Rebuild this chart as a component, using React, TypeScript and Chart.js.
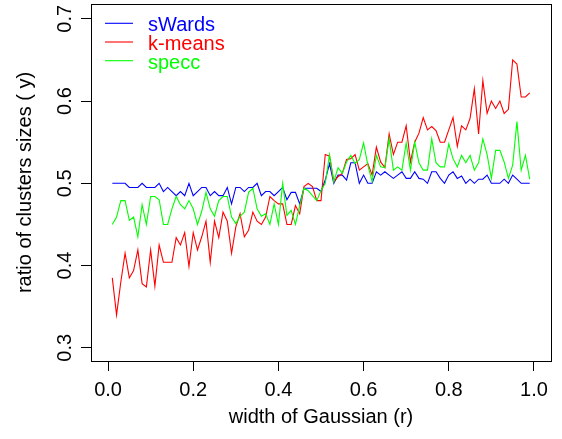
import React, { useEffect, useRef } from "react";
import { Chart, registerables } from "chart.js";

Chart.register(...registerables);

const widths = [
  0.01, 0.02, 0.03, 0.04, 0.05, 0.06, 0.07, 0.08, 0.09, 0.1,
  0.11, 0.12, 0.13, 0.14, 0.15, 0.16, 0.17, 0.18, 0.19, 0.2,
  0.21, 0.22, 0.23, 0.24, 0.25, 0.26, 0.27, 0.28, 0.29, 0.3,
  0.31, 0.32, 0.33, 0.34, 0.35, 0.36, 0.37, 0.38, 0.39, 0.4,
  0.41, 0.42, 0.43, 0.44, 0.45, 0.46, 0.47, 0.48, 0.49, 0.5,
  0.51, 0.52, 0.53, 0.54, 0.55, 0.56, 0.57, 0.58, 0.59, 0.6,
  0.61, 0.62, 0.63, 0.64, 0.65, 0.66, 0.67, 0.68, 0.69, 0.7,
  0.71, 0.72, 0.73, 0.74, 0.75, 0.76, 0.77, 0.78, 0.79, 0.8,
  0.81, 0.82, 0.83, 0.84, 0.85, 0.86, 0.87, 0.88, 0.89, 0.9,
  0.91, 0.92, 0.93, 0.94, 0.95, 0.96, 0.97, 0.98, 0.99,
];

const sWards = [
  0.5, 0.5, 0.5, 0.5, 0.495, 0.495, 0.495, 0.5, 0.495, 0.495,
  0.495, 0.5, 0.49, 0.495, 0.49, 0.485, 0.49, 0.485, 0.5, 0.485,
  0.49, 0.495, 0.495, 0.485, 0.49, 0.485, 0.485, 0.495, 0.475, 0.495,
  0.495, 0.49, 0.495, 0.495, 0.5, 0.485, 0.49, 0.49, 0.485, 0.49,
  0.495, 0.48, 0.489, 0.489, 0.475, 0.494, 0.494, 0.494, 0.494, 0.49,
  0.504, 0.524, 0.5, 0.51, 0.51, 0.504, 0.525, 0.525, 0.5, 0.51,
  0.5, 0.5, 0.514, 0.51, 0.514, 0.51, 0.506, 0.51, 0.514, 0.506,
  0.506, 0.514, 0.506, 0.505, 0.5, 0.514, 0.514, 0.506, 0.5, 0.51,
  0.514, 0.506, 0.509, 0.5, 0.505, 0.5, 0.505, 0.505, 0.51, 0.5,
  0.5, 0.5, 0.505, 0.5, 0.51, 0.505, 0.5, 0.5, 0.5,
];

const kMeans = [
  0.385, 0.34, 0.38, 0.415, 0.385, 0.394, 0.419, 0.378, 0.374, 0.419,
  0.375, 0.425, 0.404, 0.404, 0.404, 0.434, 0.425, 0.44, 0.399, 0.44,
  0.419, 0.435, 0.454, 0.404, 0.454, 0.434, 0.465, 0.454, 0.415, 0.447,
  0.463, 0.435, 0.443, 0.465, 0.454, 0.45, 0.459, 0.484, 0.479, 0.475,
  0.475, 0.45, 0.45, 0.473, 0.463, 0.496, 0.5, 0.496, 0.479, 0.479,
  0.535, 0.533, 0.502, 0.508, 0.512, 0.529, 0.53, 0.535, 0.516, 0.52,
  0.524, 0.51, 0.544, 0.526, 0.519, 0.56, 0.535, 0.55, 0.55, 0.57,
  0.526, 0.55, 0.561, 0.58, 0.565, 0.569, 0.564, 0.55, 0.55, 0.565,
  0.58, 0.545, 0.57, 0.565, 0.579, 0.615, 0.56, 0.625, 0.585, 0.6,
  0.591, 0.6, 0.585, 0.59, 0.65, 0.645, 0.605, 0.605, 0.61,
];

const specc = [
  0.45, 0.459, 0.479, 0.479, 0.455, 0.459, 0.435, 0.474, 0.45, 0.484,
  0.484, 0.48, 0.45, 0.45, 0.469, 0.484, 0.474, 0.469, 0.479, 0.469,
  0.45, 0.466, 0.489, 0.469, 0.46, 0.479, 0.484, 0.484, 0.459, 0.451,
  0.46, 0.465, 0.489, 0.494, 0.469, 0.46, 0.463, 0.45, 0.475, 0.45,
  0.5, 0.461, 0.467, 0.45, 0.473, 0.494, 0.491, 0.485, 0.479, 0.491,
  0.5, 0.535, 0.502, 0.519, 0.512, 0.526, 0.534, 0.524, 0.529, 0.549,
  0.522, 0.502, 0.534, 0.52, 0.519, 0.554, 0.516, 0.52, 0.516, 0.549,
  0.516, 0.55, 0.525, 0.516, 0.516, 0.554, 0.525, 0.52, 0.52, 0.548,
  0.53, 0.52, 0.534, 0.525, 0.534, 0.516, 0.525, 0.554, 0.535, 0.506,
  0.54, 0.54, 0.526, 0.506, 0.522, 0.575, 0.516, 0.534, 0.505,
];

const seriesNames = ["sWards", "k-means", "specc"];
const seriesColors = ["#0000FF", "#FF0000", "#00FF00"];
const xTicks = [0, 0.2, 0.4, 0.6, 0.8, 1.0];
const yTicks = [0.3, 0.4, 0.5, 0.6, 0.7];
const xTitle = "width of Gaussian (r)";
const yTitle = "ratio of clusters sizes ( y)";

const FONT = '"Liberation Sans", Arial, Helvetica, sans-serif';

const overlayPlugin = {
  id: "overlay",
  afterDraw(chart: any) {
    const { ctx, chartArea: ca, scales } = chart;
    ctx.save();
    ctx.strokeStyle = "#000";
    ctx.lineWidth = 1;
    const l = Math.round(ca.left) + 0.5;
    const t = Math.round(ca.top) + 0.5;
    const r = Math.round(ca.right) + 0.5;
    const b = Math.round(ca.bottom) + 0.5;
    ctx.strokeRect(l, t, r - l, b - t);

    ctx.fillStyle = "#000";
    ctx.font = `20px ${FONT}`;
    ctx.textAlign = "center";
    ctx.textBaseline = "alphabetic";
    for (const v of yTicks) {
      const py = scales.y.getPixelForValue(v);
      ctx.save();
      ctx.translate(ca.left - 20, py);
      ctx.rotate(-Math.PI / 2);
      ctx.fillText(v.toFixed(1), 0, 0);
      ctx.restore();
    }
    ctx.save();
    ctx.translate(ca.left - 60, (ca.top + ca.bottom) / 2);
    ctx.rotate(-Math.PI / 2);
    ctx.fillText(yTitle, 0, 0);
    ctx.restore();

    ctx.fillText(xTitle, (ca.left + ca.right) / 2, ca.bottom + 62);

    // legend
    ctx.textAlign = "left";
    chart.data.datasets.forEach((ds: any, i: number) => {
      const y = ca.top + 19.3 + 18.7 * i;
      ctx.strokeStyle = ds.borderColor;
      ctx.lineWidth = 1.1;
      ctx.beginPath();
      ctx.moveTo(ca.left + 14, y);
      ctx.lineTo(ca.left + 42, y);
      ctx.stroke();
      ctx.fillStyle = ds.borderColor;
      ctx.fillText(ds.label, ca.left + 57, y + 8);
    });
    ctx.restore();
  },
};

export default function App() {
  const canvasRef = useRef<HTMLCanvasElement | null>(null);

  useEffect(() => {
    const canvas = canvasRef.current;
    if (!canvas) return;
    const series = [sWards, kMeans, specc];
    const chart = new Chart(canvas, {
      type: "line",
      data: {
        datasets: series.map((vals, k) => ({
          label: seriesNames[k],
          data: widths.map((x, i) => ({ x, y: vals[i] })),
          borderColor: seriesColors[k],
          backgroundColor: seriesColors[k],
          borderWidth: 1.1,
          pointRadius: 0,
          tension: 0,
          fill: false,
          order: 3 - k,
        })),
      },
      options: {
        animation: false,
        responsive: false,
        maintainAspectRatio: false,
        layout: { padding: { left: 0, top: 4, right: 11, bottom: 0 } },
        plugins: {
          legend: { display: false },
          tooltip: { enabled: false },
          title: { display: false },
        },
        scales: {
          x: {
            type: "linear",
            min: -0.04,
            max: 1.04,
            afterBuildTicks: (s: any) => {
              s.ticks = xTicks.map((v) => ({ value: v }));
            },
            afterFit: (s: any) => {
              s.height = 78;
            },
            ticks: {
              color: "#000",
              font: { family: FONT, size: 20 },
              padding: 7,
              maxRotation: 0,
              autoSkip: false,
              callback: (v: any) => Number(v).toFixed(1),
            },
            grid: {
              drawOnChartArea: false,
              drawTicks: true,
              tickLength: 10,
              color: "#000",
              lineWidth: 1,
            },
            border: { display: false },
          },
          y: {
            type: "linear",
            min: 0.284,
            max: 0.718,
            afterBuildTicks: (s: any) => {
              s.ticks = yTicks.map((v) => ({ value: v }));
            },
            afterFit: (s: any) => {
              s.width = 91;
            },
            ticks: { display: false },
            grid: {
              drawOnChartArea: false,
              drawTicks: true,
              tickLength: 10,
              color: "#000",
              lineWidth: 1,
            },
            border: { display: false },
          },
        },
      },
      plugins: [overlayPlugin],
    });
    return () => chart.destroy();
  }, []);

  return (
    <div style={{ position: "absolute", left: 0, top: 0, width: 562, height: 439, background: "#fff" }}>
      <canvas ref={canvasRef} width={562} height={439} style={{ display: "block", width: 562, height: 439 }} />
    </div>
  );
}
